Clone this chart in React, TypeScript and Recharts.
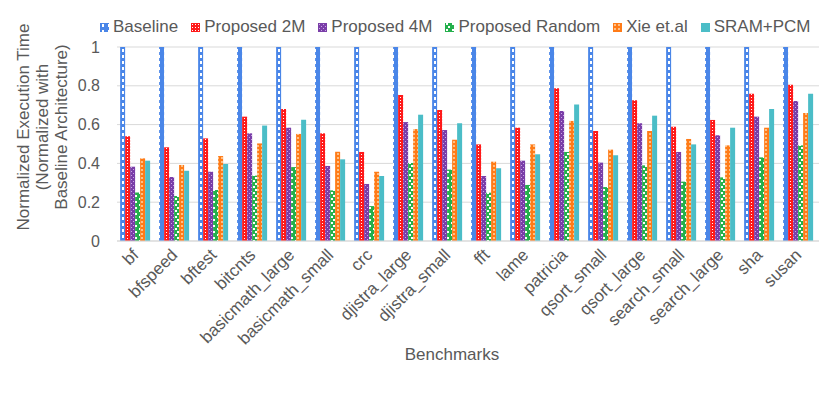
import React from 'react';
import { BarChart, Bar, XAxis, YAxis, CartesianGrid, Legend } from 'recharts';

const categories = ['bf', 'bfspeed', 'bftest', 'bitcnts', 'basicmath_large', 'basicmath_small', 'crc', 'djistra_large', 'djistra_small', 'fft', 'lame', 'patricia', 'qsort_small', 'qsort_large', 'search_small', 'search_large', 'sha', 'susan'];
const baseline = [1, 1, 1, 1, 1, 1, 1, 1, 1, 1, 1, 1, 1, 1, 1, 1, 1, 1];
const proposed2M = [0.54, 0.483, 0.529, 0.641, 0.68, 0.555, 0.459, 0.753, 0.675, 0.498, 0.584, 0.787, 0.567, 0.725, 0.589, 0.624, 0.759, 0.806];
const proposed4M = [0.383, 0.33, 0.357, 0.555, 0.584, 0.387, 0.294, 0.613, 0.572, 0.335, 0.414, 0.67, 0.404, 0.607, 0.459, 0.545, 0.641, 0.722];
const proposedRandom = [0.25, 0.232, 0.263, 0.337, 0.381, 0.261, 0.18, 0.402, 0.368, 0.249, 0.289, 0.459, 0.278, 0.39, 0.306, 0.328, 0.431, 0.493];
const xie = [0.426, 0.392, 0.438, 0.503, 0.552, 0.46, 0.357, 0.577, 0.522, 0.409, 0.498, 0.619, 0.471, 0.567, 0.526, 0.493, 0.584, 0.66];
const sramPcm = [0.414, 0.362, 0.397, 0.595, 0.625, 0.421, 0.335, 0.651, 0.607, 0.375, 0.447, 0.703, 0.442, 0.646, 0.498, 0.584, 0.68, 0.759];
const yTicks = [0, 0.2, 0.4, 0.6, 0.8, 1];

const seriesNames = ['Baseline', 'Proposed 2M', 'Proposed 4M', 'Proposed Random', 'Xie et.al', 'SRAM+PCM'];
const seriesKeys = ['baseline', 'p2m', 'p4m', 'prand', 'xie', 'sram'];
const seriesFills = ['url(#patBase)', 'url(#pat2M)', 'url(#pat4M)', 'url(#patRand)', 'url(#patXie)', '#4bbdc7'];

const data = categories.map((name, i) => ({
  name,
  baseline: baseline[i],
  p2m: proposed2M[i],
  p4m: proposed4M[i],
  prand: proposedRandom[i],
  xie: xie[i],
  sram: sramPcm[i],
}));

const FONT = '"Liberation Sans", Arial, sans-serif';
const TXT = '#595959';

const Patterns = () => (
  <svg width={0} height={0} style={{ position: 'absolute' }}>
    <defs>
      <pattern id="patBase" patternUnits="userSpaceOnUse" width={6} height={6}>
        <rect width={6} height={6} fill="#4a86e8" />
        <rect x={2} y={1} width={2} height={3} fill="#ffffff" />
      </pattern>
      <pattern id="pat2M" patternUnits="userSpaceOnUse" width={3} height={3}>
        <rect width={3} height={3} fill="#ff1a1a" />
        <rect x={1} y={1} width={1} height={1} fill="#ffffff" />
      </pattern>
      <pattern id="pat4M" patternUnits="userSpaceOnUse" width={4} height={4}>
        <rect width={4} height={4} fill="#7a3ea8" />
        <rect x={1} y={1} width={1} height={1} fill="#c9a8e6" />
        <rect x={3} y={3} width={1} height={1} fill="#c9a8e6" />
      </pattern>
      <pattern id="patRand" patternUnits="userSpaceOnUse" width={6} height={6}>
        <rect width={6} height={6} fill="#24b04c" />
        <rect x={1} y={0} width={2} height={2} fill="#ffffff" />
        <rect x={3} y={3} width={2} height={2} fill="#ffffff" />
      </pattern>
      <pattern id="patXie" patternUnits="userSpaceOnUse" width={4} height={4}>
        <rect width={4} height={4} fill="#ff7b17" />
        <rect x={1} y={1} width={2} height={2} fill="#ffbf85" />
      </pattern>
    </defs>
  </svg>
);

const renderLegend = () => (
  <div
    style={{
      display: 'flex',
      height: 24,
      alignItems: 'center',
      paddingLeft: 100,
      fontFamily: FONT,
      fontSize: 17,
      color: TXT,
      whiteSpace: 'nowrap',
    }}
  >
    {seriesNames.map((n, i) => (
      <div key={n} style={{ display: 'flex', alignItems: 'center', marginRight: 13 }}>
        <svg width={9} height={9} style={{ marginRight: 4 }}>
          <rect width={9} height={9} fill={seriesFills[i]} />
        </svg>
        <span>{n}</span>
      </div>
    ))}
  </div>
);

const CategoryTick = (props: any) => {
  const { x, y, payload } = props;
  return (
    <g transform={`translate(${x + 3},${y + 15})`}>
      <text x={0} y={0} textAnchor="end" transform="rotate(-45)" fontFamily={FONT} fontSize={17} fill={TXT}>
        {payload.value}
      </text>
    </g>
  );
};

const YTitle = (props: any) => {
  const cy = 127;
  return (
    <text transform={`rotate(-90, 29, ${cy})`} x={29} y={cy} textAnchor="middle" fontFamily={FONT} fontSize={17} fill={TXT}>
      <tspan x={29} dy={0}>Normalized Execution Time</tspan>
      <tspan x={29} dy={19}>(Normalized with</tspan>
      <tspan x={29} dy={19}>Baseline Architecture)</tspan>
    </text>
  );
};

const XTitle = () => (
  <text x={452} y={360} textAnchor="middle" fontFamily={FONT} fontSize={17} fill={TXT}>
    Benchmarks
  </text>
);

export default function App() {
  return (
    <div style={{ position: 'absolute', left: 0, top: 0, width: 830, height: 396, background: '#fff' }}>
      <Patterns />
      <BarChart
        width={830}
        height={396}
        data={data}
        margin={{ top: 23, right: 11, left: 0, bottom: 0 }}
        barCategoryGap="8%"
        barGap={0}
      >
        <CartesianGrid vertical={false} stroke="#d9d9d9" />
        <XAxis
          dataKey="name"
          interval={0}
          height={155}
          tickLine={false}
          tickSize={0}
          tickMargin={0}
          axisLine={{ stroke: '#d9d9d9' }}
          tick={<CategoryTick />}
          label={{ content: <XTitle /> }}
        />
        <YAxis
          width={117}
          domain={[0, 1]}
          ticks={yTicks}
          axisLine={false}
          tickLine={false}
          tickSize={0}
          tickMargin={17}
          tick={{ fontFamily: FONT, fontSize: 16, fill: TXT }}
          label={{ content: <YTitle /> }}
        />
        <Legend verticalAlign="top" align="left" content={renderLegend} wrapperStyle={{ top: 15, left: 0, width: 830 }} />
        {seriesKeys.map((k, i) => (
          <Bar key={k} dataKey={k} name={seriesNames[i]} fill={seriesFills[i]} isAnimationActive={false} />
        ))}
      </BarChart>
    </div>
  );
}
